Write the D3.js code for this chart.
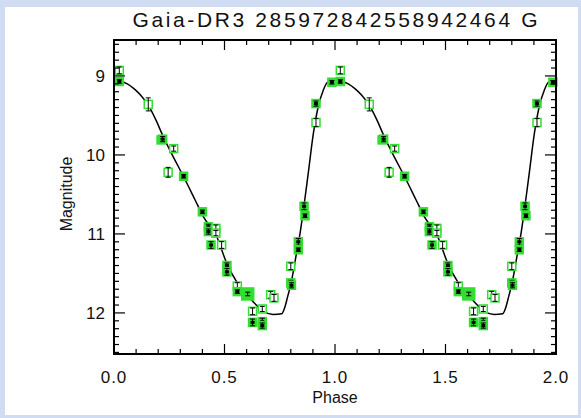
<!DOCTYPE html>
<html><head><meta charset="utf-8">
<script src="https://cdn.jsdelivr.net/npm/d3@7"></script>
<style>
html,body{margin:0;padding:0;background:#d0dcf2;}
svg{display:block;}
text{font-family:"Liberation Sans",Arial,sans-serif;fill:#111;}
</style></head><body>
<svg id="c" width="581" height="418"></svg>
<script>
const titleText = "Gaia-DR3 285972842558942464 G";
const xLabel = "Phase";
const yLabel = "Magnitude";
const xTicks = [0.0, 0.5, 1.0, 1.5, 2.0];
const yTicks = [9, 10, 11, 12];

// observed points (phase 0..1), plotted at phase and phase+1
const obsPhase = [0.024,0.024,0.155,0.213,0.220,0.270,0.245,0.315,0.400,0.427,0.427,0.461,0.461,0.439,0.487,0.511,0.511,0.558,0.558,0.605,0.627,0.627,0.671,0.671,0.671,0.709,0.724,0.800,0.800,0.803,0.834,0.834,0.860,0.864,0.914,0.914,0.986];
const obsMag   = [8.93,9.07,9.36,9.81,9.80,9.92,10.22,10.27,10.72,10.91,10.97,10.93,10.99,11.14,11.14,11.40,11.48,11.66,11.73,11.76,11.98,12.12,11.95,12.11,12.16,11.77,11.81,11.41,11.62,11.65,11.10,11.20,10.65,10.77,9.35,9.59,9.08];
const obsErr   = [0.03,0.01,0.07,0.02,0.02,0.02,0.05,0.01,0.01,0.02,0.02,0.03,0.02,0.03,0.03,0.02,0.03,0.03,0.01,0.01,0.03,0.03,0.02,0.03,0.02,0.03,0.03,0.03,0.02,0.02,0.03,0.01,0.03,0.01,0.02,0.04,0.01];
const obsType  = ["o","f","o","f","f","o","o","f","f","f","f","o","o","f","o","f","f","o","f","b","o","f","o","f","f","o","o","o","f","f","f","f","f","f","f","o","f"];

// model light curve (phase 0..1)
const modelPhase = [0.00,0.03,0.06,0.09,0.12,0.155,0.19,0.223,0.26,0.314,0.367,0.404,0.464,0.51,0.56,0.623,0.676,0.72,0.759,0.774,0.786,0.80,0.811,0.826,0.842,0.857,0.879,0.902,0.924,0.947,0.97,1.00];
const modelMag   = [9.065,9.07,9.10,9.16,9.24,9.37,9.56,9.77,9.98,10.27,10.57,10.78,11.03,11.37,11.63,11.84,11.98,12.02,12.01,11.92,11.79,11.64,11.48,11.24,10.99,10.70,10.23,9.73,9.39,9.18,9.07,9.065];

const svg = d3.select("#c");
svg.append("rect").attr("x",5).attr("y",7).attr("width",573).attr("height",408).attr("fill","#fff");

const L=114,R=556,T=40,B=354;
const x = d3.scaleLinear().domain([0,2]).range([L,R]);
const y = d3.scaleLinear().domain([8.545,12.52]).range([T,B]);

const g = svg.append("g");
svg.append("clipPath").attr("id","clip").append("rect").attr("x",L).attr("y",T).attr("width",R-L).attr("height",B-T);

// model curve
const model = [];
for (let c=0;c<2;c++) modelPhase.forEach((p,i)=>model.push([p+c, modelMag[i]]));
g.append("path").datum(model).attr("clip-path","url(#clip)")
 .attr("d", d3.line().x(d=>x(d[0])).y(d=>y(d[1])).curve(d3.curveMonotoneX))
 .attr("fill","none").attr("stroke","#000").attr("stroke-width",1.5);

// points
const pts=[];
for (let c=0;c<2;c++) obsPhase.forEach((p,i)=>pts.push({p:p+c,m:obsMag[i],e:obsErr[i],t:obsType[i]}));
const green="#33dd33";
const pg = g.append("g");
pts.forEach(d=>{
  const cx=x(d.p), cy=y(d.m);
  const s = d.t==="b"?12:8;
  pg.append("rect").attr("x",cx-s/2).attr("y",cy-s/2).attr("width",s).attr("height",s)
    .attr("fill", d.t==="o"?"#fff":green).attr("stroke",green).attr("stroke-width",1.5);
  const y1=y(d.m-d.e), y2=y(d.m+d.e);
  pg.append("line").attr("x1",cx).attr("x2",cx).attr("y1",y1-1).attr("y2",y2+1).attr("stroke","#000").attr("stroke-width",1);
  [y1-1,y2+1].forEach(yy=>pg.append("line").attr("x1",cx-2.5).attr("x2",cx+2.5).attr("y1",yy).attr("y2",yy).attr("stroke","#000").attr("stroke-width",1));
  if(d.t==="f") pg.append("rect").attr("x",cx-2).attr("y",cy-1.5).attr("width",4).attr("height",3).attr("fill","#000");
});

// frame
svg.append("rect").attr("x",L).attr("y",T).attr("width",R-L).attr("height",B-T).attr("fill","none").attr("stroke","#000").attr("stroke-width",2);

// ticks
const ax = svg.append("g").attr("stroke","#000").attr("stroke-width",1.2);
d3.range(0,2.0001,0.1).forEach(v=>{
  const major = Math.abs(v*2-Math.round(v*2))<1e-6;
  const len = major?10:5;
  ax.append("line").attr("x1",x(v)).attr("x2",x(v)).attr("y1",B).attr("y2",B-len);
  ax.append("line").attr("x1",x(v)).attr("x2",x(v)).attr("y1",T).attr("y2",T+len);
});
d3.range(8.6,12.51,0.1).forEach(v=>{
  const major = Math.abs(v-Math.round(v))<1e-6;
  const len = major?11:5;
  ax.append("line").attr("y1",y(v)).attr("y2",y(v)).attr("x1",L).attr("x2",L+len);
  ax.append("line").attr("y1",y(v)).attr("y2",y(v)).attr("x1",R).attr("x2",R-len);
});

// tick labels
svg.append("g").selectAll("text").data(xTicks).join("text")
  .attr("x",d=>x(d)).attr("y",383).attr("text-anchor","middle").attr("font-size",17).attr("letter-spacing",1)
  .text(d=>d3.format(".1f")(d));
svg.append("g").selectAll("text").data(yTicks).join("text")
  .attr("x",105).attr("y",d=>y(d)+6).attr("text-anchor","end").attr("font-size",17)
  .text(d=>d);

svg.append("text").attr("x",335).attr("y",27).attr("text-anchor","middle").attr("font-size",21)
  .attr("textLength",405).attr("lengthAdjust","spacing").text(titleText);
svg.append("text").attr("x",335).attr("y",403).attr("text-anchor","middle").attr("font-size",16).text(xLabel);
svg.append("text").attr("transform","translate(72,194) rotate(-90)").attr("text-anchor","middle").attr("font-size",16).text(yLabel);
</script>
</body></html>
